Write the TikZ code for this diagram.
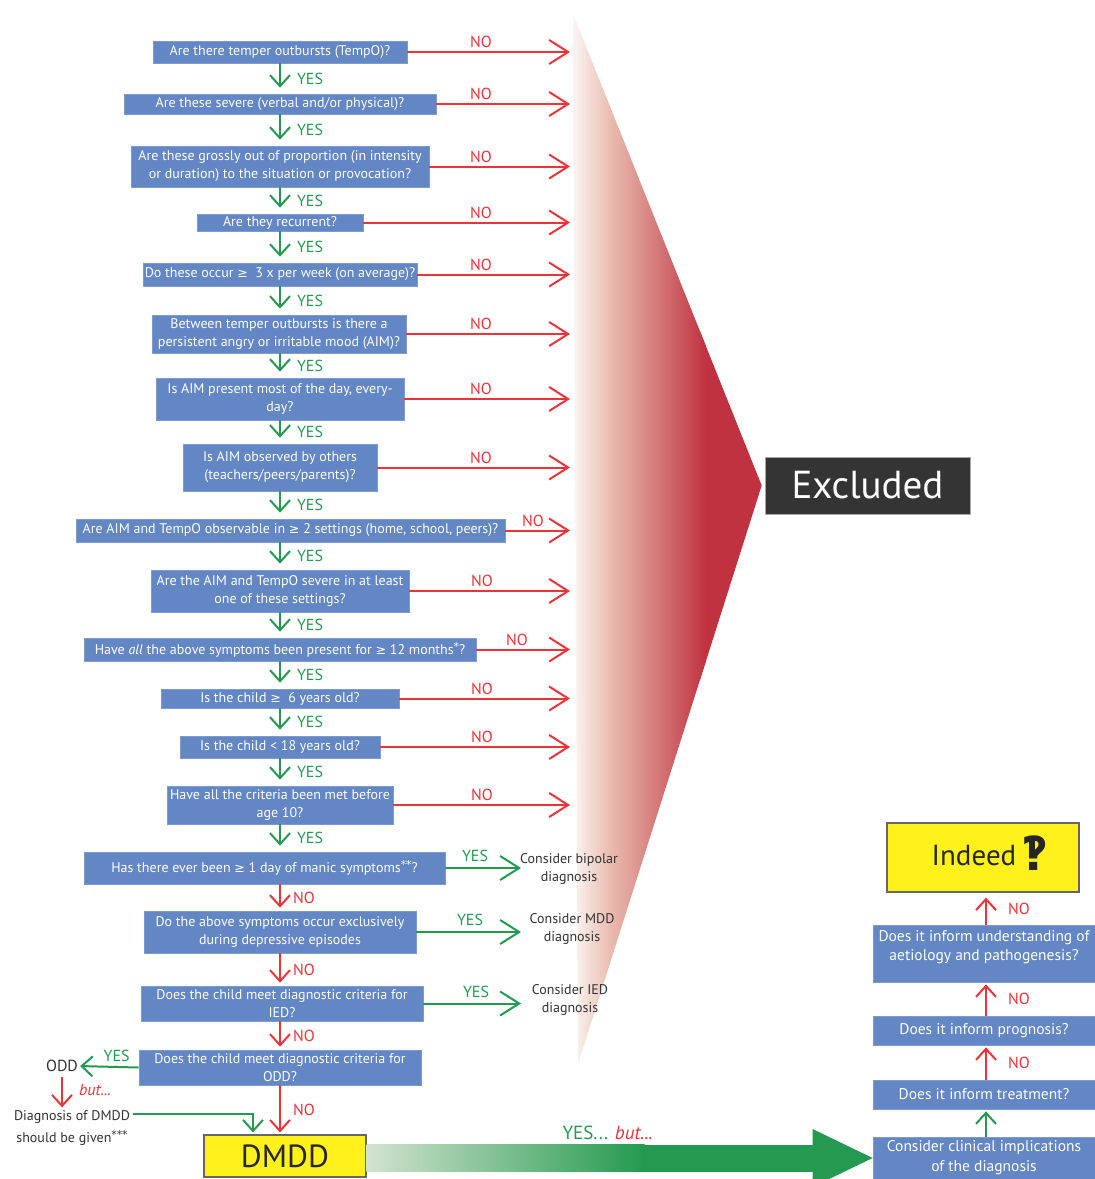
\documentclass[tikz,border=0pt]{standalone}
\usepackage{fontspec}
\setmainfont{PT Sans}
\newfontfamily\symfont[Scale=0.9]{DejaVu Sans}
\usetikzlibrary{arrows.meta,calc,positioning}

\definecolor{boxblue}{HTML}{6386C4}
\definecolor{boxedge}{HTML}{7E9BD0}
\definecolor{nored}{HTML}{EE3338}
\definecolor{yesgreen}{HTML}{239A4F}
\definecolor{gfade}{HTML}{D3E3D0}
\definecolor{exred}{HTML}{C0323F}
\definecolor{expeach}{HTML}{EAC0B3}
\definecolor{exgray}{HTML}{353435}
\definecolor{dmddyellow}{HTML}{FFF21C}
\definecolor{txtgray}{HTML}{333333}

\newcommand{\boxfont}{\fontsize{14}{18}\selectfont}
\newcommand{\rfont}{\fontsize{15.5}{20}\selectfont}
\newcommand{\labfont}{\fontsize{16}{16}\selectfont}
\newcommand{\geqsym}{{\symfont ≥}}
\newcommand{\stars}[1]{\raisebox{4pt}{\symfont\fontsize{12}{12}\selectfont #1}}

\tikzset{
  qbox/.style={rectangle, fill=boxblue, draw=boxedge, line width=0.8pt, text=white,
    font=\boxfont, align=center, inner sep=0pt},
  rbox/.style={qbox, font=\rfont},
  ybox/.style={rectangle, fill=dmddyellow, draw=black!60, line width=1.2pt,
    text=black!85, inner sep=0pt},
  exbox/.style={rectangle, fill=exgray, draw=black!35, line width=0.6pt, text=white,
    inner sep=0pt, font=\fontsize{39}{39}\selectfont},
  noline/.style={nored, line width=2pt, -{Straight Barb[length=19pt,width=24pt]}},
  yesline/.style={yesgreen, line width=2pt, -{Straight Barb[length=19pt,width=24pt]}},
  yesbarb/.style={yesgreen, line width=2pt, -{Straight Barb[length=11pt,width=20pt]}},
  yesdown/.style={yesbarb, shorten >=6pt},
  nodown/.style={yesbarb, nored, shorten >=3pt},
  yeslab/.style={text=yesgreen, font=\labfont, inner sep=0pt},
  nolab/.style={text=nored, font=\labfont, inner sep=0pt},
  sidetext/.style={text=txtgray, font=\boxfont, align=center, inner sep=0pt}
}

\begin{document}
\begin{tikzpicture}[x=1pt,y=-1pt]
\useasboundingbox (0,0) rectangle (1095,1179);
\clip (0,0) rectangle (1095,1179);
\fill[white] (0,0) rectangle (1095,1179);

\coordinate (sp) at (280,0);
\coordinate (ex) at (570,0);
\coordinate (yx) at (521,0);
\coordinate (rx) at (986,0);

% excluded wedge
\node[exbox, minimum width=205, minimum height=57] (excl) at (867.5,485.5) {Excluded};
\begin{scope}
  \clip (573,14) -- ($(excl.west)+(-3,0)$) -- (578,1064) -- cycle;
  \fill[exred] (700,0) rectangle (780,1179);
  \shade[left color=white, right color=expeach] (566,0) rectangle (608,1179);
  \shade[left color=expeach, right color=exred] (607.5,0) rectangle (706,1179);
\end{scope}

% questions
\node[qbox, minimum width=254, minimum height=22] (q1) at (280,52) {Are there temper outbursts (TempO)?};
\node[qbox, minimum width=312, minimum height=20] (q2) at (280,104) {Are these severe (verbal and/or physical)?};
\node[qbox, minimum width=298, minimum height=41] (q3) at (280,166.5) {Are these grossly out of proportion (in intensity\\or duration) to the situation or provocation?};
\node[qbox, minimum width=166, minimum height=17] (q4) at (280,222.5) {Are they recurrent?};
\node[qbox, minimum width=274, minimum height=23] (q5) at (280,274.5) {Do these occur \geqsym{}\ \ 3 x per week (on average)?};
\node[qbox, minimum width=254, minimum height=38] (q6) at (279,334) {Between temper outbursts is there a\\persistent angry or irritable mood (AIM)?};
\node[qbox, minimum width=248, minimum height=42] (q7) at (280,399) {Is AIM present most of the day, every-\\day?};
\node[qbox, minimum width=194, minimum height=47] (q8) at (280,467.5) {Is AIM observed by others\\(teachers/peers/parents)?};
\node[qbox, minimum width=429, minimum height=23] (q9) at (290.5,530.5) {Are AIM and TempO observable in \geqsym{} 2 settings (home, school, peers)?};
\node[qbox, minimum width=258, minimum height=42] (q10) at (280,591) {Are the AIM and TempO severe in at least\\one of these settings?};
\node[qbox, minimum width=392, minimum height=23] (q11) at (280,649.5) {Have \textit{all} the above symptoms been present for \geqsym{} 12 months\stars{*}?};
\node[qbox, minimum width=238, minimum height=19] (q12) at (280,698.5) {Is the child \geqsym{}\ \ 6 years old?};
\node[qbox, minimum width=200, minimum height=22] (q13) at (280,747) {Is the child < 18 years old?};
\node[qbox, minimum width=226, minimum height=38] (q14) at (280,805) {Have all the criteria been met before\\age 10?};
\node[qbox, minimum width=361, minimum height=32] (q15) at (264.5,868) {Has there ever been \geqsym{} 1 day of manic symptoms\stars{**}?};
\node[qbox, minimum width=272, minimum height=42] (q16) at (280,932) {Do the above symptoms occur exclusively\\during depressive episodes};
\node[qbox, minimum width=282, minimum height=35] (q17) at (282,1003.5) {Does the child meet diagnostic criteria for\\IED?};
\node[qbox, minimum width=282, minimum height=35] (q18) at (280,1067.5) {Does the child meet diagnostic criteria for\\ODD?};
\node[ybox, minimum width=162, minimum height=42, font=\fontsize{32}{32}\selectfont] (dmdd) at (285,1156) {DMDD};

\foreach \a/\b in {q1/q2,q2/q3,q3/q4,q4/q5,q5/q6,q6/q7,q7/q8,q8/q9,q9/q10,q10/q11,q11/q12,q12/q13,q13/q14,q14/q15}
  \draw[yesdown] (\a.south -| sp) -- (\b.north -| sp) node[midway, yeslab, right=16pt] {YES};

\foreach \b/\lx in {q1/481,q2/481,q3/481,q4/481,q5/481,q6/481,q7/481,q8/481,q9/533,q10/482,q11/517,q12/482,q13/482,q14/482}{
  \draw[noline] (\b.east) -- (\b.east -| ex);
  \path (\lx,0) coordinate (nx);
  \node[nolab] at ($(\b.east -| nx)+(0,-10)$) {NO};
}

\foreach \a/\b in {q15/q16,q16/q17,q17/q18}
  \draw[nodown] (\a.south -| sp) -- (\b.north -| sp) node[midway, nolab, right=12pt] {NO};
\draw[nodown, shorten >=2pt] (q18.south -| sp) -- (dmdd.north -| sp) node[midway, nolab, right=12pt] {NO};

% other diagnoses
\node[sidetext] (bip) at (569,869) {Consider bipolar\\diagnosis};
\node[sidetext] (mdd) at (572,929) {Consider MDD\\diagnosis};
\node[sidetext] (ied) at (570,999.5) {Consider IED\\diagnosis};
\foreach \b/\lx in {q15/475,q16/470,q17/476}{
  \draw[yesline] (\b.east) -- (\b.east -| yx);
  \path (\lx,0) coordinate (yl);
  \node[yeslab] at ($(\b.east -| yl)+(0,-12)$) {YES};
}

\node[sidetext, font=\labfont] (odd) at (62,1066) {ODD};
\draw[yesbarb, shorten >=2pt] (q18.west) -- (odd.east);
\node[yeslab] at ($(q18.west)+(-22,-12)$) {YES};
\node[sidetext, font=\fontsize{14}{22}\selectfont] (diag) at (72,1128) {Diagnosis of DMDD\\should be given\stars{***}};
\draw[yesbarb, nored, shorten <=5pt, shorten >=3pt] (odd.south) -- (odd.south |- diag.north);
\node[nolab, font=\labfont\itshape] at (95,1090) {but...};
\draw[yesdown, shorten >=2pt] ($(diag.north east)+(3,4)$) -| ($(dmdd.north)+(-32,0)$);

% clinical implications
\node[rbox, minimum width=222, minimum height=42] (clin) at (984,1158) {Consider clinical implications\\of the diagnosis};
\node[rbox, minimum width=222, minimum height=29] (treat) at (984,1094.5) {Does it inform treatment?};
\node[rbox, minimum width=222, minimum height=29] (prog) at (984,1030.5) {Does it inform prognosis?};
\node[rbox, minimum width=222, minimum height=57] (under) at (984,953.5) {};
\node[text=white, font=\fontsize{15.5}{19}\selectfont, align=center, inner sep=0pt] at ($(under)+(0,-6)$) {Does it inform understanding of\\aetiology and pathogenesis?};
\node[ybox, minimum width=192, minimum height=69] (indeed) at (983,857.5) {\hspace*{14pt}\fontsize{29}{29}\selectfont Indeed\,\raisebox{-5pt}{\smash{\symfont\bfseries\fontsize{52}{52}\selectfont ‽}}};

\draw[yesbarb, shorten >=2pt] (clin.north -| rx) -- (treat.south -| rx);
\draw[nodown, shorten >=2pt] (treat.north -| rx) -- (prog.south -| rx) node[midway, nolab, right=21pt] {NO};
\draw[nodown, shorten >=2pt] (prog.north -| rx) -- (under.south -| rx) node[midway, nolab, right=21pt] {NO};
\draw[nodown, shorten >=5pt] (under.north -| rx) -- (indeed.south -| rx) node[midway, nolab, right=21pt] {NO};

% the long arrow
\coordinate (ga) at ($(dmdd.east)+(0,2)$);
\coordinate (gb) at (clin.west);
\shade[left color=gfade, right color=yesgreen] ($(ga)+(0,-13.5)$) rectangle ($(ga)+(278,13.5)$);
\fill[yesgreen] ($(ga)+(277,-13.5)$) rectangle ($(gb)+(-60,13.5)$);
\fill[yesgreen] ($(gb)+(-60,-29)$) -- (gb) -- ($(gb)+(-60,29)$) -- cycle;
\node[inner sep=0pt, font=\fontsize{19}{19}\selectfont] (yesbut) at ($(ga)+(241,-25)$) {\textcolor{yesgreen}{YES...} \textcolor{nored}{\itshape but...}};
\end{tikzpicture}
\end{document}
